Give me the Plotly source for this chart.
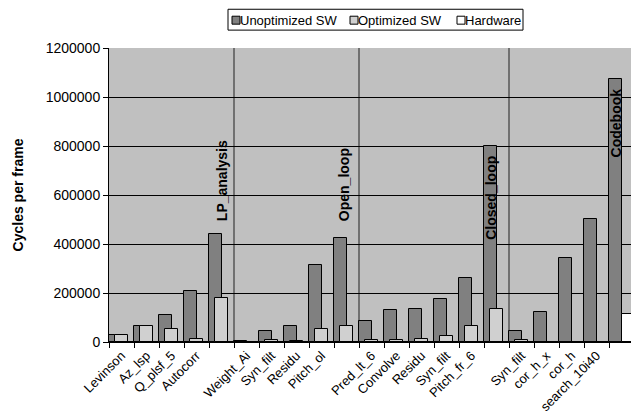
import plotly.graph_objects as go

# Function names per category; blank slots hold the stage totals
labels = ["Levinson", "Az_lsp", "Q_plsf_5", "Autocorr", "",
          "Weight_Ai", "Syn_filt", "Residu", "Pitch_ol", "",
          "Pred_lt_6", "Convolve", "Residu", "Syn_filt", "Pitch_fr_6", "",
          "Syn_filt", "cor_h_x", "cor_h", "search_10i40", ""]
stages = ["LP_analysis", "Open_loop", "Closed_loop", "Codebook"]
stage_index = [4, 9, 15, 20]

unoptimized = [29000, 67000, 112000, 207000, 439000,
               2500, 43000, 66000, 315000, 426000,
               85000, 131000, 135000, 174000, 261000, 802000,
               44000, 124000, 342000, 504000, 1075000]
optimized = [28000, 66000, 53000, 12000, 178000,
             1000, 6500, 6000, 54000, 66000,
             9000, 8000, 12000, 26000, 66000, 134000,
             8000, 0, 0, 0, 0]
hardware = [0, 0, 0, 0, 0,
            0, 0, 0, 0, 0,
            0, 0, 0, 0, 0, 0,
            0, 0, 0, 0, 113000]

W, H = 631, 414
ML, MR, MT, MB = 109, 0, 48, 70
x = list(range(len(labels)))
font = "Liberation Sans, Arial, sans-serif"


def px(xp):
    return (xp - ML) / (W - ML - MR)


def py(yp):
    return (H - MB - yp) / (H - MT - MB)


fig = go.Figure()
series = [
    ("Unoptimized SW", unoptimized, "#808080", -0.5),
    ("Optimized SW", optimized, "#D0D0D0", -0.25),
    ("Hardware", hardware, "#FFFFFF", 0.0),
]
for name, vals, color, off in series:
    fig.add_trace(go.Bar(
        x=x, y=vals, name=name, width=0.5, offset=off,
        marker=dict(color=color, line=dict(color="black", width=1)),
        showlegend=False,
    ))

# Stage dividers between the groups of functions
for i in stage_index[:-1]:
    fig.add_shape(type="line", xref="x", yref="paper",
                  x0=i + 0.5, x1=i + 0.5, y0=0, y1=1,
                  line=dict(color="#202020", width=1), layer="below")

# Stage names written vertically over the total bars
label_pos = [(484000, "bottom", 7), (484000, "bottom", 4), (None, "top", 0), (None, "top", 1)]
for name, i, (ly, anchor, dx) in zip(stages, stage_index, label_pos):
    yv = unoptimized[i] if ly is None else ly
    fig.add_annotation(x=i - 0.25, xref="x", yref="y", y=yv, yanchor=anchor,
                       yshift=-8 if ly is None else 0, xshift=dx,
                       text="<b>%s</b>" % name, textangle=-90, showarrow=False,
                       xanchor="center", font=dict(family=font, size=14, color="black"))

# Legend box drawn above the plot
fig.add_shape(type="rect", xref="paper", yref="paper",
              x0=px(228), x1=px(523), y0=py(30), y1=py(9),
              line=dict(color="black", width=1), fillcolor="white")
legend_x = [232, 350, 457]
for (name, vals, color, off), lx in zip(series, legend_x):
    fig.add_shape(type="rect", xref="paper", yref="paper",
                  x0=px(lx), x1=px(lx + 8), y0=py(24), y1=py(16),
                  line=dict(color="black", width=1), fillcolor=color)
    fig.add_annotation(xref="paper", yref="paper", x=px(lx + 6), y=py(20),
                       xanchor="left", yanchor="middle", text=name, showarrow=False,
                       font=dict(family=font, size=13, color="black"))

fig.update_layout(
    width=W, height=H,
    margin=dict(l=ML, r=MR, t=MT, b=MB),
    paper_bgcolor="white", plot_bgcolor="#C0C0C0",
    barmode="overlay", bargap=0,
    font=dict(family=font, size=13, color="black"),
    showlegend=False,
    xaxis=dict(range=[-0.5, 20.38], tickmode="array", tickvals=x, ticktext=labels,
               tickangle=-45, ticks="", showgrid=False, zeroline=False,
               showline=True, linecolor="black", linewidth=1,
               tickfont=dict(family=font, size=13),
               minor=dict(tickmode="array", tickvals=[v - 0.5 for v in range(len(labels) + 1)],
                          ticks="outside", ticklen=5, tickcolor="black", showgrid=False)),
    yaxis=dict(range=[0, 1200000], tickmode="linear", tick0=0, dtick=200000,
               tickformat="d", showgrid=True, gridcolor="black", gridwidth=1,
               zeroline=False, showline=True, linecolor="black", linewidth=1,
               ticks="outside", ticklen=5, tickcolor="black",
               tickfont=dict(family=font, size=14),
               title=dict(text="<b>Cycles per frame</b>", font=dict(family=font, size=14),
                          standoff=18)),
)

fig.write_html("out.html")
